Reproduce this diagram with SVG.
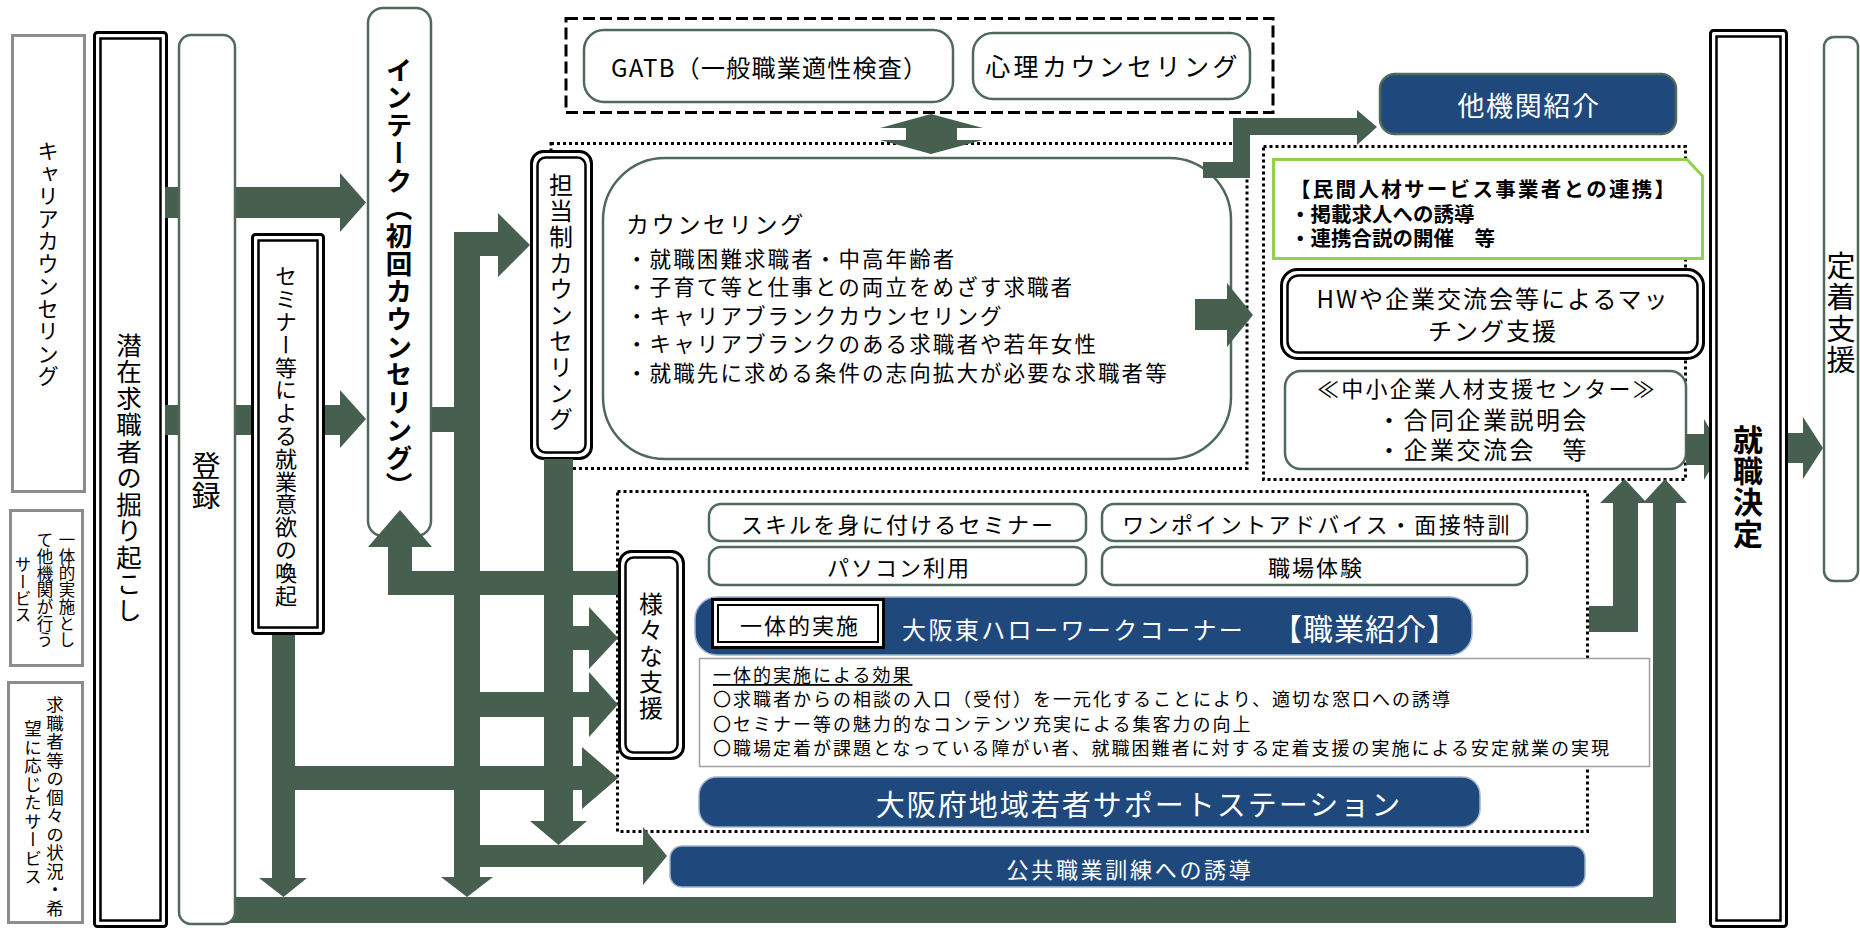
<svg xmlns="http://www.w3.org/2000/svg" width="1860" height="930" viewBox="0 0 1860 930">
<style>
.t{font-family:'Noto Sans CJK JP','Noto Sans',sans-serif;fill:#000}
.v{writing-mode:vertical-rl}
.w{fill:#fff}
.b{font-weight:bold}
.box{fill:#fff;stroke:#4f6a5a;stroke-width:2.5}
.gbox{fill:#fff;stroke:#8c8c8c;stroke-width:3}
.dbl{fill:#fff;stroke:#000;stroke-width:3}
.dbli{fill:none;stroke:#000;stroke-width:2.5}
.navy{fill:#1f497d;stroke:#9fb3cc;stroke-width:1.5}
.dot{fill:none;stroke:#000;stroke-width:3;stroke-dasharray:3 3}
.dash{fill:none;stroke:#000;stroke-width:3;stroke-dasharray:12 5}
.arr{fill:#475f4f}
</style>
<rect width="1860" height="930" fill="#fff"/>
<g id="frames">
<rect class="dash" x="566" y="18.5" width="707" height="94"/>
<rect class="dot" x="551" y="143.5" width="696" height="325"/>
<rect class="dot" x="1263.5" y="146.5" width="422" height="333"/>
<rect class="dot" x="617.5" y="491.5" width="970" height="340"/>
</g>
<g id="n-career"><rect class="gbox" x="12.5" y="35.5" width="72" height="456"/>
<text class="t v" x="48" y="264" font-size="21.5" letter-spacing="1" text-anchor="middle">キャリアカウンセリング</text></g>
<g id="n-ittai-other"><rect class="gbox" x="10.5" y="510.5" width="72" height="155"/>
<text class="t v" font-size="16.5" letter-spacing="0.2" text-anchor="middle"><tspan x="67" y="590">一体的実施とし</tspan><tspan x="45" y="590">て他機関が行う</tspan><tspan x="23" y="590">サービス</tspan></text></g>
<g id="n-kojin"><rect class="gbox" x="8.5" y="682.5" width="74" height="240"/>
<text class="t v" font-size="17.5" letter-spacing="1" text-anchor="middle"><tspan x="55" y="807">求職者等の個々の状況・希</tspan><tspan x="33" y="803">望に応じたサービス</tspan></text></g>
<g id="n-senzai"><rect class="dbl" x="94.5" y="32.5" width="72" height="894" rx="3"/><rect class="dbli" x="100.5" y="38.5" width="60" height="882"/>
<text class="t v" x="129" y="478" font-size="25.5" letter-spacing="1" text-anchor="middle">潜在求職者の掘り起こし</text></g>
<g id="n-intake"><rect class="box" x="368" y="8" width="63" height="528" rx="15"/>
<text class="t v b" x="399" y="278" font-size="26.5" letter-spacing="1.2" text-anchor="middle">インテーク（初回カウンセリング）</text></g>
<g id="n-gatb"><rect class="box" x="584" y="30" width="369" height="72" rx="20"/>
<text class="t" x="611" y="66" font-size="24" textLength="316" lengthAdjust="spacing" dominant-baseline="central">GATB（一般職業適性検査）</text></g>
<g id="n-shinri"><rect class="box" x="973" y="33" width="277" height="66" rx="20"/>
<text class="t" x="1113" y="65" font-size="25" letter-spacing="3.4" text-anchor="middle" dominant-baseline="central">心理カウンセリング</text></g>
<g id="n-tanto"><rect class="dbl" x="531.5" y="151.5" width="60" height="307" rx="12"/><rect class="dbli" x="537.5" y="157.5" width="48" height="295" rx="8"/>
<text class="t v" x="561" y="303" font-size="24" letter-spacing="2" text-anchor="middle">担当制カウンセリング</text></g>
<g id="n-counsel"><rect class="box" x="603" y="158" width="628" height="301" rx="62"/>
<text class="t" x="626" y="223" font-size="23" letter-spacing="2.7" dominant-baseline="central">カウンセリング</text>
<text class="t" x="626" y="257" font-size="21.5" letter-spacing="2.1" dominant-baseline="central">・就職困難求職者・中高年齢者</text>
<text class="t" x="626" y="285.5" font-size="21.5" letter-spacing="2.1" dominant-baseline="central">・子育て等と仕事との両立をめざす求職者</text>
<text class="t" x="626" y="314" font-size="21.5" letter-spacing="2.1" dominant-baseline="central">・キャリアブランクカウンセリング</text>
<text class="t" x="626" y="342.5" font-size="21.5" letter-spacing="2.1" dominant-baseline="central">・キャリアブランクのある求職者や若年女性</text>
<text class="t" x="626" y="371" font-size="21.5" letter-spacing="2.1" dominant-baseline="central">・就職先に求める条件の志向拡大が必要な求職者等</text></g>
<g id="n-takikan"><rect x="1380" y="74" width="296" height="60" rx="15" fill="#1f497d" stroke="#4f6a5a" stroke-width="2.5"/>
<text class="t w" x="1529" y="104" font-size="27" letter-spacing="1.6" text-anchor="middle" dominant-baseline="central">他機関紹介</text></g>
<g id="n-minkan"><polygon points="1273.5,159.5 1687,159.5 1702.5,176 1702.5,258.5 1273.5,258.5" fill="#fff" stroke="#92d050" stroke-width="3"/>
<text class="t b" x="1290" y="188" font-size="20.5" letter-spacing="2.3" dominant-baseline="central">【民間人材サービス事業者との連携】</text>
<text class="t b" x="1290" y="213" font-size="20.5" dominant-baseline="central">・掲載求人への誘導</text>
<text class="t b" x="1290" y="237" font-size="20.5" dominant-baseline="central">・連携合説の開催　等</text></g>
<g id="n-hw"><rect class="dbl" x="1281.5" y="269.5" width="422" height="89" rx="16"/><rect class="dbli" x="1287.5" y="275.5" width="410" height="77" rx="11"/>
<text class="t" x="1493" y="297" font-size="24" letter-spacing="2" text-anchor="middle" dominant-baseline="central">HWや企業交流会等によるマッ</text>
<text class="t" x="1493" y="329" font-size="24" letter-spacing="2" text-anchor="middle" dominant-baseline="central">チング支援</text></g>
<g id="n-chusho"><rect class="box" x="1285" y="371" width="401" height="98" rx="16"/>
<text class="t" x="1487" y="387" font-size="22" letter-spacing="2.3" text-anchor="middle" dominant-baseline="central">≪中小企業人材支援センター≫</text>
<text class="t" x="1377" y="418" font-size="24" letter-spacing="2.5" dominant-baseline="central">・合同企業説明会</text>
<text class="t" x="1377" y="448" font-size="24" letter-spacing="2.5" dominant-baseline="central">・企業交流会　等</text></g>
<g id="n-teichaku"><rect class="box" x="1824" y="37" width="34" height="544" rx="10"/>
<text class="t v" x="1841" y="314" font-size="29" letter-spacing="2.5" text-anchor="middle">定着支援</text></g>
<g id="n-samazama"><rect class="dbl" x="619.5" y="551.5" width="64" height="207" rx="12"/><rect class="dbli" x="625.5" y="557.5" width="52" height="195" rx="8"/>
<text class="t v" x="651" y="657" font-size="24" letter-spacing="2" text-anchor="middle">様々な支援</text></g>
<g id="n-skill"><rect class="box" x="709" y="504" width="377" height="37" rx="12"/>
<text class="t" x="898" y="523" font-size="22" letter-spacing="2.2" text-anchor="middle" dominant-baseline="central">スキルを身に付けるセミナー</text></g>
<g id="n-onepoint"><rect class="box" x="1102" y="504" width="425" height="37" rx="12"/>
<text class="t" x="1317" y="523" font-size="22" letter-spacing="2.4" text-anchor="middle" dominant-baseline="central">ワンポイントアドバイス・面接特訓</text></g>
<g id="n-pc"><rect class="box" x="709" y="547" width="377" height="38" rx="12"/>
<text class="t" x="899" y="566" font-size="22" letter-spacing="2" text-anchor="middle" dominant-baseline="central">パソコン利用</text></g>
<g id="n-shokuba"><rect class="box" x="1102" y="547" width="425" height="38" rx="12"/>
<text class="t" x="1316" y="566" font-size="22" letter-spacing="2" text-anchor="middle" dominant-baseline="central">職場体験</text></g>
<g id="n-osakahigashi"><rect class="navy" x="695" y="597" width="777" height="58" rx="22"/>
<rect x="712.5" y="599.5" width="171" height="48" fill="#fff" stroke="#000" stroke-width="3"/><rect x="718" y="605" width="160" height="37" fill="none" stroke="#000" stroke-width="2"/>
<text class="t" x="800" y="624" font-size="22" letter-spacing="2" text-anchor="middle" dominant-baseline="central">一体的実施</text>
<text class="t w" x="902" y="628" font-size="24" letter-spacing="2.4" dominant-baseline="central">大阪東ハローワークコーナー</text>
<text class="t w" x="1272" y="627" font-size="30" letter-spacing="1" dominant-baseline="central">【職業紹介】</text></g>
<g id="n-kouka"><rect x="699.5" y="658.5" width="950" height="108" fill="#fff" stroke="#a0a0a0" stroke-width="1.5"/>
<text class="t" x="713" y="674" font-size="18" letter-spacing="2" text-decoration="underline" dominant-baseline="central">一体的実施による効果</text>
<text class="t" x="713" y="698" font-size="18" letter-spacing="2" dominant-baseline="central">〇求職者からの相談の入口（受付）を一元化することにより、適切な窓口への誘導</text>
<text class="t" x="713" y="723" font-size="18" letter-spacing="2" dominant-baseline="central">〇セミナー等の魅力的なコンテンツ充実による集客力の向上</text>
<text class="t" x="713" y="747" font-size="18" letter-spacing="2" dominant-baseline="central">〇職場定着が課題となっている障がい者、就職困難者に対する定着支援の実施による安定就業の実現</text></g>
<g id="n-saposute"><rect class="navy" x="699" y="777" width="781" height="50" rx="18"/>
<text class="t w" x="1139" y="803" font-size="29" letter-spacing="2" text-anchor="middle" dominant-baseline="central">大阪府地域若者サポートステーション</text></g>
<g id="n-kokyo"><rect class="navy" x="670" y="846" width="915" height="41" rx="12"/>
<text class="t w" x="1130" y="868" font-size="22" letter-spacing="2.7" text-anchor="middle" dominant-baseline="central">公共職業訓練への誘導</text></g>
<g id="connectors" class="arr">
<polygon points="165,187 340,187 340,173 366,202.5 340,232 340,218 165,218"/>
<polygon points="165,405 256,405 256,435 165,435"/>
<polygon points="323,405 340,405 340,390 366,419 340,448 340,435 323,435"/>
<polygon points="272,635 295,635 295,878 307,878 283.5,897 259,878 272,878"/>
<polygon points="295,766 582,766 582,747 618,778 582,809 582,790 295,790"/>
<polygon points="432,407 455,407 455,432 432,432"/>
<polygon points="454,232 498,232 498,213 530,245 498,277 498,256 480,256 480,877 493,877 467,897 441,877 454,877"/>
<polygon points="480,692 589,692 589,672 618,704.5 589,737 589,717 480,717"/>
<polygon points="480,845 643,845 643,827 667,856 643,885 643,867 480,867"/>
<polygon points="544,459 573,459 573,821 587,821 558.5,845 530,821 544,821"/>
<polygon points="573,626 589,626 589,607 618,638 589,669 589,650 573,650"/>
<polygon points="618,571 412,571 412,547 432,547 400,510 368,547 388,547 388,595 618,595"/>
<polygon points="880,128 931,114 983,128 957,128 957,140 983,140 931,154 880,140 906,140 906,128"/>
<polygon points="1195,299 1227,299 1227,283 1253,315 1227,347 1227,330 1195,330"/>
<polygon points="1203,162 1233,162 1233,118 1357,118 1357,110 1377,127 1357,145 1357,135 1250,135 1250,178 1203,178"/>
<polygon points="1686,434 1704,434 1704,419 1722,449.5 1704,480 1704,465 1686,465"/>
<polygon points="1788,433 1803,433 1803,417 1823,448 1803,479 1803,463 1788,463"/>
<polygon points="1589,606 1613,606 1613,503 1600,503 1624.5,479 1647,503 1638,503 1638,632 1589,632"/>
<polygon points="230,897 1653,897 1653,503 1643,503 1665,479 1687,503 1676,503 1676,923 230,923"/>
</g>
<g id="n-touroku"><rect class="box" x="179" y="35" width="56" height="889" rx="12"/>
<text class="t v" x="206" y="481" font-size="29" letter-spacing="1" text-anchor="middle">登録</text></g>
<g id="n-seminar"><rect class="dbl" x="252.5" y="234.5" width="71" height="399" rx="3"/><rect class="dbli" x="258.5" y="240.5" width="59" height="387"/>
<text class="t v" x="286" y="436" font-size="22" letter-spacing="0.8" text-anchor="middle">セミナー等による就業意欲の喚起</text></g>
<g id="n-shushoku"><rect class="dbl" x="1710.5" y="30.5" width="76" height="896" rx="3"/><rect class="dbli" x="1716.5" y="36.5" width="64" height="884"/>
<text class="t v b" x="1748" y="487" font-size="30" letter-spacing="1.3" text-anchor="middle">就職決定</text></g>
</svg>
